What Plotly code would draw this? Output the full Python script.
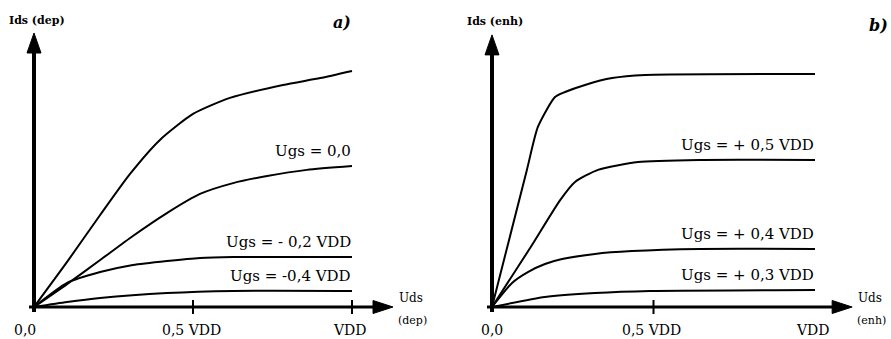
import plotly.graph_objects as go

# ---------------- data (x in VDD, y relative drain current) ----------------
# panel a) depletion transistor
a_x_top = [0, 0.104, 0.208, 0.302, 0.396, 0.5, 0.616, 0.783, 0.9, 1.0]
a_y_top = [0, 0.191, 0.390, 0.564, 0.708, 0.818, 0.886, 0.941, 0.970, 1.0]
a_x_0 = [0, 0.104, 0.208, 0.311, 0.418, 0.522, 0.626, 0.733, 0.858, 1.0]
a_y_0 = [0, 0.097, 0.199, 0.301, 0.398, 0.479, 0.525, 0.555, 0.581, 0.597]
a_x_m02 = [0, 0.104, 0.208, 0.311, 0.418, 0.522, 0.626, 1.0]
a_y_m02 = [0, 0.102, 0.148, 0.178, 0.195, 0.208, 0.212, 0.212]
a_x_m04 = [0, 0.104, 0.208, 0.418, 0.626, 1.0]
a_y_m04 = [0, 0.021, 0.038, 0.059, 0.068, 0.068]
a_labels = ["Ugs = 0,0", "Ugs = - 0,2 VDD", "Ugs = -0,4 VDD"]

# panel b) enhancement transistor
b_x_top = [0, 0.108, 0.142, 0.195, 0.226, 0.288, 0.372, 0.474, 1.0]
b_y_top = [0, 0.581, 0.763, 0.890, 0.911, 0.941, 0.970, 0.983, 0.987]
b_x_05 = [0, 0.118, 0.211, 0.257, 0.328, 0.452, 0.644, 1.0]
b_y_05 = [0, 0.250, 0.453, 0.530, 0.581, 0.614, 0.623, 0.623]
b_x_04 = [0, 0.062, 0.111, 0.164, 0.217, 0.319, 0.433, 0.644, 1.0]
b_y_04 = [0, 0.102, 0.148, 0.182, 0.203, 0.225, 0.237, 0.246, 0.246]
b_x_03 = [0, 0.164, 0.319, 0.489, 1.0]
b_y_03 = [0, 0.042, 0.059, 0.068, 0.072]
b_labels = ["Ugs = + 0,5 VDD", "Ugs = + 0,4 VDD", "Ugs = + 0,3 VDD"]

tick_vals_a = [0, 0.5, 1.0]
tick_text_a = ["0,0", "0,5 VDD", "VDD"]
tick_marks_a = [0.5, 1.0]
tick_vals_b = [0, 0.5, 1.0]
tick_text_b = ["0,0", "0,5 VDD", "VDD"]
tick_marks_b = [0.5]

axis_tip_a = (1.129, 1.161)   # end of Uds / Ids arrows
axis_tip_b = (1.115, 1.153)
y_title_a = ["Ids (dep)"]
y_title_b = ["Ids (enh)"]
x_title_a = ["Uds", "(dep)"]
x_title_b = ["Uds", "(enh)"]
panel_tags = ["a)", "b)"]

# ---------------- layout geometry ----------------
W, H = 891, 339
SXA, SXB, SY = 318.0, 323.0, 236.0        # px per unit
X0A = -34 / SXA
X1A = X0A + (W / 2) / SXA
X0B = -(492 - W / 2) / SXB
X1B = X0B + (W / 2) / SXB
Y0 = -(H - 307) / SY
Y1 = Y0 + H / SY

SERIF = "DejaVu Serif"
fig = go.Figure()

line_style = dict(color="black", width=2, shape="spline", smoothing=0.6)
for xs, ys in [(a_x_top, a_y_top), (a_x_0, a_y_0), (a_x_m02, a_y_m02), (a_x_m04, a_y_m04)]:
    fig.add_trace(go.Scatter(x=xs, y=ys, mode="lines", line=line_style,
                             xaxis="x", yaxis="y", showlegend=False, hoverinfo="skip"))
for xs, ys in [(b_x_top, b_y_top), (b_x_05, b_y_05), (b_x_04, b_y_04), (b_x_03, b_y_03)]:
    fig.add_trace(go.Scatter(x=xs, y=ys, mode="lines", line=line_style,
                             xaxis="x2", yaxis="y2", showlegend=False, hoverinfo="skip"))

shapes = []
annotations = []

def panel(xr, yr, sx, tip, ticks, tvals, ttext, ytitle, xtitle, curves, labels, zero_shift):
    xt, yt = tip
    shapes.append(dict(type="line", xref=xr, yref=yr, x0=0, x1=0,
                       y0=-5 / SY, y1=yt - 10 / SY, line=dict(color="black", width=4)))
    shapes.append(dict(type="line", xref=xr, yref=yr, x0=-5 / sx, x1=xt - 10 / sx,
                       y0=0, y1=0, line=dict(color="black", width=3)))
    shapes.append(dict(type="path", xref=xr, yref=yr, xsizemode="pixel", ysizemode="pixel",
                       xanchor=0, yanchor=yt, path="M 0 0 L -7 -20 L 7 -20 Z",
                       fillcolor="black", line=dict(color="black", width=1)))
    shapes.append(dict(type="path", xref=xr, yref=yr, xsizemode="pixel", ysizemode="pixel",
                       xanchor=xt, yanchor=0, path="M 0 0 L -20 6.5 L -20 -6.5 Z",
                       fillcolor="black", line=dict(color="black", width=1)))
    for t in ticks:
        shapes.append(dict(type="line", xref=xr, yref=yr, x0=t, x1=t,
                           y0=-7 / SY, y1=7 / SY, line=dict(color="black", width=2)))
    for v, txt in zip(tvals, ttext):
        annotations.append(dict(xref=xr, yref=yr, x=v, y=0, text=txt, showarrow=False,
                                xanchor="center", yanchor="middle", yshift=-23,
                                xshift=(zero_shift if v == 0 else -2),
                                font=dict(family=SERIF, size=14, color="black")))
    annotations.append(dict(xref=xr, yref=yr, x=0, y=yt, text="<b>" + ytitle[0] + "</b>",
                            showarrow=False, xanchor="center", yanchor="middle", yshift=13,
                            xshift=3, font=dict(family=SERIF, size=11, color="black")))
    annotations.append(dict(xref=xr, yref=yr, x=xt, y=0, text=xtitle[0], showarrow=False,
                            xanchor="left", yanchor="middle", xshift=4, yshift=9,
                            font=dict(family=SERIF, size=12, color="black")))
    annotations.append(dict(xref=xr, yref=yr, x=xt, y=0, text=xtitle[1], showarrow=False,
                            xanchor="left", yanchor="middle", xshift=3, yshift=-13,
                            font=dict(family=SERIF, size=11, color="black")))
    for (xs, ys), lab in zip(curves, labels):
        annotations.append(dict(xref=xr, yref=yr, x=xs[-1], y=ys[-1], text=lab,
                                showarrow=False, xanchor="right", yanchor="middle",
                                yshift=15, xshift=1,
                                font=dict(family=SERIF, size=15, color="black")))

panel("x", "y", SXA, axis_tip_a, tick_marks_a, tick_vals_a, tick_text_a, y_title_a, x_title_a,
      [(a_x_0, a_y_0), (a_x_m02, a_y_m02), (a_x_m04, a_y_m04)], a_labels, -9)
panel("x2", "y2", SXB, axis_tip_b, tick_marks_b, tick_vals_b, tick_text_b, y_title_b, x_title_b,
      [(b_x_05, b_y_05), (b_x_04, b_y_04), (b_x_03, b_y_03)], b_labels, 0)

annotations.append(dict(xref="paper", yref="paper", x=342 / W, y=1 - 22 / H,
                        text="<b><i>" + panel_tags[0] + "</i></b>", showarrow=False,
                        xanchor="center", yanchor="middle",
                        font=dict(family=SERIF, size=16, color="black")))
annotations.append(dict(xref="paper", yref="paper", x=878 / W, y=1 - 25 / H,
                        text="<b><i>" + panel_tags[1] + "</i></b>", showarrow=False,
                        xanchor="center", yanchor="middle",
                        font=dict(family=SERIF, size=16, color="black")))

hidden = dict(visible=False, fixedrange=True)
fig.update_layout(
    width=W, height=H, margin=dict(l=0, r=0, t=0, b=0),
    paper_bgcolor="white", plot_bgcolor="white", showlegend=False,
    xaxis=dict(domain=[0, 0.5], range=[X0A, X1A], anchor="y", **hidden),
    yaxis=dict(domain=[0, 1], range=[Y0, Y1], anchor="x", **hidden),
    xaxis2=dict(domain=[0.5, 1], range=[X0B, X1B], anchor="y2", **hidden),
    yaxis2=dict(domain=[0, 1], range=[Y0, Y1], anchor="x2", **hidden),
    shapes=shapes, annotations=annotations,
)
fig.write_html("out.html", config={"displayModeBar": False},
               post_script="document.body.style.margin='0px';document.body.style.overflow='hidden';")
